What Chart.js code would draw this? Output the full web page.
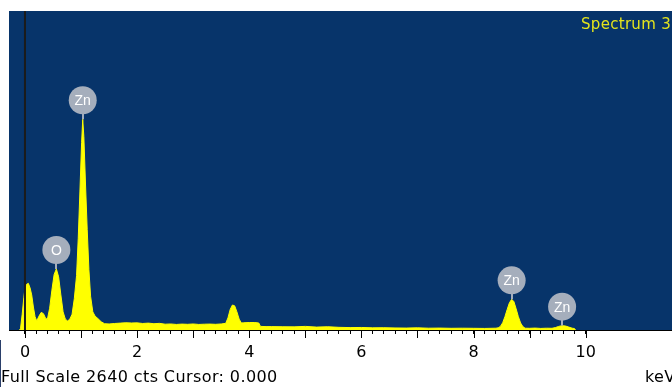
<!DOCTYPE html>
<html>
<head>
<meta charset="utf-8">
<script src="https://cdn.jsdelivr.net/npm/chart.js@4/dist/chart.umd.min.js"></script>
<style>
  html, body { margin: 0; padding: 0; background: #ffffff; overflow: hidden; }
  #wrap { position: relative; width: 672px; height: 387px; }
</style>
</head>
<body>
<div id="wrap"><canvas id="c" width="672" height="387"></canvas></div>
<script>
// EDS spectrum: energy (keV) and counts per channel
const energyKeV = [
  -0.10, -0.08, -0.05, -0.02, 0.00, 0.03, 0.06, 0.09, 0.12, 0.15, 0.18, 0.21,
  0.25, 0.29, 0.33, 0.37, 0.40, 0.44, 0.48, 0.52, 0.56, 0.60, 0.64, 0.68,
  0.72, 0.76, 0.80, 0.84, 0.88, 0.92, 0.95, 0.98, 1.01, 1.03, 1.05, 1.08,
  1.11, 1.14, 1.17, 1.21, 1.25, 1.30, 1.36, 1.42, 1.50, 1.60, 1.70, 1.80,
  1.90, 2.00, 2.10, 2.20, 2.30, 2.40, 2.50, 2.60, 2.70, 2.80, 2.90, 3.00,
  3.10, 3.20, 3.30, 3.40, 3.50, 3.58, 3.62, 3.66, 3.70, 3.74, 3.78, 3.82,
  3.86, 3.90, 4.00, 4.10, 4.17, 4.20, 4.30, 4.40, 4.60, 4.80, 5.00, 5.20,
  5.40, 5.60, 5.80, 6.00, 6.20, 6.40, 6.60, 6.80, 7.00, 7.20, 7.40, 7.60,
  7.80, 8.00, 8.20, 8.40, 8.44, 8.48, 8.52, 8.56, 8.60, 8.64, 8.68, 8.72,
  8.76, 8.80, 8.84, 8.88, 8.92, 9.00, 9.10, 9.20, 9.30, 9.40, 9.46, 9.52,
  9.58, 9.64, 9.70, 9.76, 9.80, 9.82
];
const counts = [
  0, 10, 130, 270, 345, 378, 386, 350, 290, 190, 110, 75,
  115, 146, 135, 95, 90, 180, 330, 460, 505, 440, 290, 150,
  90, 75, 90, 130, 260, 450, 760, 1150, 1550, 1744, 1600, 1200,
  830, 500, 280, 150, 115, 95, 68, 52, 50, 54, 57, 60,
  58, 59, 54, 57, 52, 55, 48, 50, 46, 49, 47, 50,
  46, 48, 49, 47, 50, 55, 100, 170, 207, 200, 150, 90,
  58, 60, 62, 62, 58, 30, 28, 28, 27, 26, 30, 24,
  27, 22, 20, 21, 18, 19, 17, 16, 18, 15, 16, 14,
  15, 14, 13, 15, 18, 30, 60, 110, 170, 225, 254, 235,
  175, 110, 58, 28, 15, 14, 16, 13, 15, 14, 20, 30,
  36, 33, 24, 15, 12, 0
];

// Identified lines
const peakEnergy = [1.03, 0.56, 8.68, 9.58];
const peakLabels = ['Zn', 'O', 'Zn', 'Zn'];

// Axis settings and captions
const fullScale = 2640;
const axisMin = -0.285;
const axisMax = 11.54;
const tickStep = 0.2;
const tickLast = 10;
const spectrumName = 'Spectrum 3';
const footerText = 'Full Scale 2640 cts Cursor: 0.000';
const unitLabel = 'keV';

const PLOT_BG = '#07346a';
const SPEC_YELLOW = '#ffff00';

const spectrumPoints = energyKeV.map((e, i) => ({ x: e, y: counts[i] }));

const isWhole = v => Math.abs(v - Math.round(v)) < 1e-6;

const plotBackground = {
  id: 'plotBackground',
  beforeDraw(chart) {
    const { ctx, chartArea: a } = chart;
    ctx.save();
    ctx.fillStyle = PLOT_BG;
    ctx.fillRect(a.left, a.top, a.right - a.left, a.bottom - a.top);
    ctx.restore();
  }
};

const majorTicks = {
  id: 'majorTicks',
  afterDraw(chart) {
    const { ctx } = chart;
    const xs = chart.scales.x;
    ctx.save();
    ctx.strokeStyle = '#000';
    ctx.lineWidth = 1;
    xs.ticks.forEach(t => {
      if (!isWhole(t.value)) return;
      const px = Math.round(xs.getPixelForValue(t.value)) + 0.5;
      ctx.beginPath();
      ctx.moveTo(px, xs.top);
      ctx.lineTo(px, xs.top + 8);
      ctx.stroke();
    });
    ctx.restore();
  }
};

const peakMarkers = {
  id: 'peakMarkers',
  afterDatasetsDraw(chart) {
    const { ctx } = chart;
    const xs = chart.scales.x, ys = chart.scales.y;
    ctx.save();
    peakEnergy.forEach((e, k) => {
      const idx = energyKeV.indexOf(e);
      const px = xs.getPixelForValue(e);
      const py = ys.getPixelForValue(counts[idx]);
      const cy = py - 19;
      ctx.fillStyle = '#a5aebc';
      ctx.fillRect(Math.round(px) - 1, cy, 2, py - cy);
      ctx.beginPath();
      ctx.arc(px, cy, 14, 0, Math.PI * 2);
      ctx.fill();
      ctx.fillStyle = '#ffffff';
      ctx.font = '14px "Liberation Sans", Arial, sans-serif';
      ctx.textAlign = 'center';
      ctx.textBaseline = 'middle';
      ctx.fillText(peakLabels[k], px, cy + 1);
    });
    ctx.restore();
  }
};

const captions = {
  id: 'captions',
  afterDraw(chart) {
    const { ctx } = chart;
    ctx.save();
    ctx.textBaseline = 'middle';
    ctx.fillStyle = '#e4e41c';
    ctx.font = '15px "DejaVu Sans", sans-serif';
    ctx.textAlign = 'right';
    ctx.letterSpacing = '0.3px';
    ctx.fillText(spectrumName, 671, 25);
    ctx.fillStyle = '#000';
    ctx.font = '16px "DejaVu Sans", sans-serif';
    ctx.textAlign = 'left';
    ctx.letterSpacing = '0.4px';
    ctx.fillText(footerText, 1, 378);
    ctx.fillText(unitLabel, 645, 378);
    ctx.letterSpacing = '0px';
    ctx.fillStyle = '#2a3f6a';
    ctx.fillRect(0, 340, 1, 47);
    ctx.restore();
  }
};

new Chart(document.getElementById('c'), {
  type: 'line',
  data: {
    datasets: [
      {
        data: [{ x: 0, y: 0 }, { x: 0, y: fullScale }],
        borderColor: '#1b1b1b',
        borderWidth: 2,
        pointRadius: 0,
        fill: false,
        order: 0
      },
      {
        data: spectrumPoints,
        borderColor: SPEC_YELLOW,
        backgroundColor: SPEC_YELLOW,
        borderWidth: 1,
        pointRadius: 0,
        tension: 0,
        fill: 'origin',
        order: 1
      }
    ]
  },
  options: {
    responsive: false,
    animation: false,
    devicePixelRatio: 1,
    layout: { padding: { left: 9, top: 11, right: 0, bottom: 0 } },
    plugins: { legend: { display: false }, tooltip: { enabled: false } },
    scales: {
      x: {
        type: 'linear',
        min: axisMin,
        max: axisMax,
        afterFit(scale) { scale.height = 57; },
        afterBuildTicks(scale) {
          scale.ticks = scale.ticks.filter(t => t.value >= -1e-9 && t.value <= tickLast + 1e-9);
        },
        border: { display: true, color: '#000', width: 1 },
        grid: { display: true, drawOnChartArea: false, drawTicks: true, tickLength: 4, tickColor: '#000' },
        ticks: {
          stepSize: tickStep,
          includeBounds: false,
          autoSkip: false,
          maxRotation: 0,
          padding: 9,
          color: '#000',
          font: { family: '"DejaVu Sans", sans-serif', size: 16 },
          callback(v) {
            return (isWhole(v) && Math.round(v) % 2 === 0) ? String(Math.round(v)) : '';
          }
        }
      },
      y: {
        type: 'linear',
        display: false,
        min: 0,
        max: fullScale
      }
    }
  },
  plugins: [plotBackground, majorTicks, peakMarkers, captions]
});
</script>
</body>
</html>
